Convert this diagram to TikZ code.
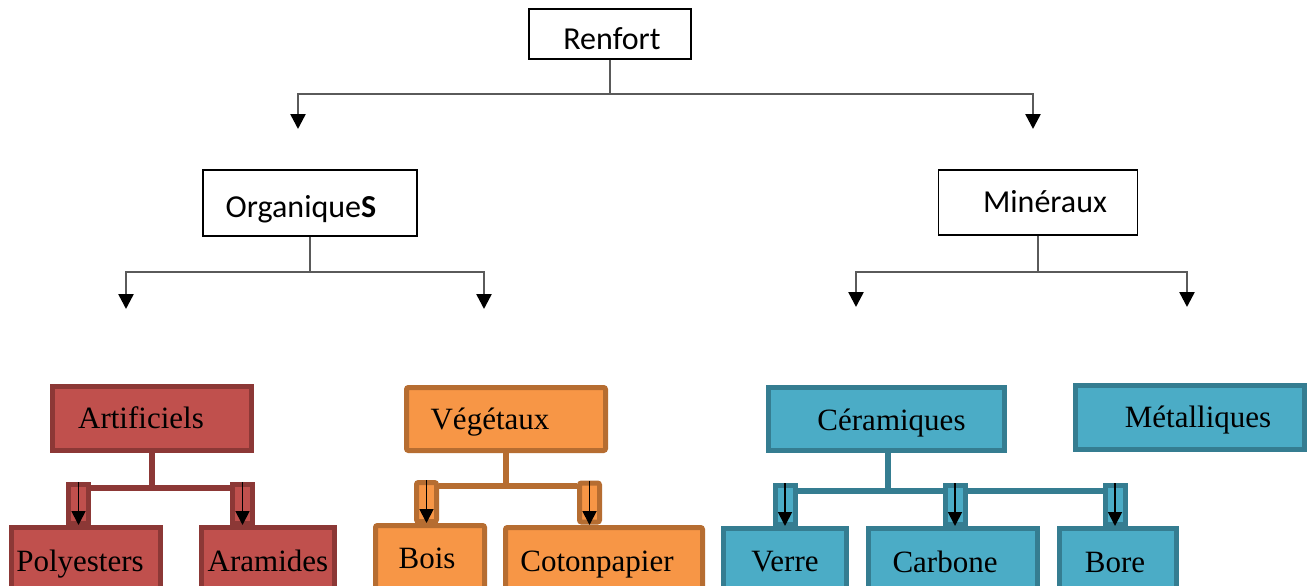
\documentclass[tikz,border=0pt]{standalone}
\usepackage{fontspec}
\setmainfont{Liberation Serif}
\newfontfamily\calib{Carlito}
\usetikzlibrary{arrows.meta}
\definecolor{redfill}{HTML}{C0504D}
\definecolor{redline}{HTML}{8C3836}
\definecolor{orafill}{HTML}{F79646}
\definecolor{oraline}{HTML}{B66D31}
\definecolor{bluefill}{HTML}{4BACC6}
\definecolor{blueline}{HTML}{357D91}
\definecolor{topgray}{HTML}{5A5A5A}
\newcommand\txtshift[2]{\hspace*{#1}#2\hspace*{-#1}}
\begin{document}
\begin{tikzpicture}[x=1pt,y=-1pt,
  topbox/.style={draw=black,line width=1.5pt,fill=white,inner sep=0pt,
    text height=26pt,text depth=0pt,
    font=\calib\fontsize{32}{36}\selectfont},
  graybar/.style={draw=topgray,line width=2.5pt},
  toparrow/.style={graybar,-{Triangle[length=15pt,width=15pt,color=black]}},
  catbox/.style={draw=#1line,fill=#1fill,line width=5pt,inner sep=0pt,
    text height=22pt,text depth=2pt,
    font=\fontsize{31}{36}\selectfont},
  conbox/.style={draw=#1line,fill=#1fill,line width=5pt,inner sep=0pt,
    minimum width=20pt,minimum height=39pt},
  cbar/.style={draw=#1line,line width=6pt},
  inarrow/.style={draw=black,line width=1.8pt,-{Triangle[length=14pt,width=14pt]}}
]
\clip (0,0) rectangle (1312,586);
\fill[white] (0,0) rectangle (1312,586);

% ---------- top level ----------
\node[topbox,text height=32pt,minimum width=162pt,minimum height=50pt] (renfort) at (610,34) {\txtshift{2pt}{Renfort}};
\node[topbox,text height=28pt,minimum width=214pt,minimum height=66pt] (org) at (310,203) {\txtshift{-9pt}{Organique\textbf{S}}};
\node[topbox,text height=20pt,minimum width=199pt,minimum height=65pt] (min) at (1038,202.5) {\txtshift{7pt}{Minéraux}};

\coordinate (rj) at (610,94);
\coordinate (t1) at (298,129);
\coordinate (t2) at (1033,129);
\draw[graybar] (renfort.south) -- (rj);
\draw[toparrow] (rj) -| (t1);
\draw[toparrow] (rj) -| (t2);

\coordinate (oj) at (310,272);
\coordinate (o1) at (126,309);
\coordinate (o2) at (484,309);
\draw[graybar] (org.south) -- (oj);
\draw[toparrow] (oj) -| (o1);
\draw[toparrow] (oj) -| (o2);

\coordinate (mj) at (1038,272);
\coordinate (m1) at (856,307);
\coordinate (m2) at (1187,307);
\draw[graybar] (min.south) -- (mj);
\draw[toparrow] (mj) -| (m1);
\draw[toparrow] (mj) -| (m2);

% ---------- red group ----------
\coordinate (aj) at (152,488);
\node[conbox=red] (ar1) at (78.5,504) {};
\node[conbox=red] (ar2) at (242.5,504) {};
\draw[cbar=red] (152,452) -- (aj);
\draw[cbar=red] (ar1.east |- aj) -- (ar2.west |- aj);
\node[catbox=red,minimum width=199pt,minimum height=64pt] (art) at (152,418.5) {\txtshift{-11pt}{Artificiels}};
\node[catbox=red,minimum width=149pt,minimum height=67pt] (poly) at (86,561) {\txtshift{-6pt}{Polyesters}};
\node[catbox=red,minimum width=133pt,minimum height=67pt] (ara) at (268,561) {Aramides};
\draw[inarrow] (ar1.north) -- (ar1.north |- poly.north);
\draw[inarrow] (ar2.north) -- (ar2.north |- ara.north);

% ---------- orange group ----------
\coordinate (vj) at (506,486);
\node[conbox=ora,rounded corners=2pt] (vg1) at (426.5,502) {};
\node[conbox=ora,rounded corners=2pt] (vg2) at (589.5,502.5) {};
\draw[cbar=ora] (506,452) -- (vj);
\draw[cbar=ora] (vg1.east |- vj) -- (vg2.west |- vj);
\node[catbox=ora,rounded corners=2pt,minimum width=199pt,minimum height=63pt] (veg) at (506,419) {\txtshift{-16pt}{Végétaux}};
\node[catbox=ora,rounded corners=2pt,minimum width=109pt,minimum height=69pt,text height=19pt] (bois) at (430,560) {\txtshift{-3pt}{Bois}};
\node[catbox=ora,rounded corners=2pt,minimum width=197pt,minimum height=67pt] (coton) at (604,561) {\txtshift{-7pt}{Cotonpapier}};
\draw[inarrow] (vg1.north) -- (vg1.north |- bois.north);
\draw[inarrow] (vg2.north) -- (vg2.north |- coton.north);

% ---------- blue group ----------
\coordinate (cj) at (888,491);
\node[conbox=blue] (ce1) at (785,505) {};
\node[conbox=blue] (ce2) at (955,505) {};
\node[conbox=blue] (ce3) at (1115,505) {};
\draw[cbar=blue] (888,452) -- (cj);
\draw[cbar=blue] (ce1.east |- cj) -- (ce3.west |- cj);
\node[catbox=blue,minimum width=236pt,minimum height=63pt,text height=24pt] (cer) at (886.5,419) {\txtshift{5pt}{Céramiques}};
\node[catbox=blue,minimum width=229pt,minimum height=64pt] (met) at (1190,417.5) {\txtshift{8pt}{Métalliques}};
\node[catbox=blue,minimum width=123pt,minimum height=66pt] (verre) at (785,561.5) {Verre};
\node[catbox=blue,minimum width=169pt,minimum height=66pt,text height=23pt] (carb) at (953,561.5) {\txtshift{-8pt}{Carbone}};
\node[catbox=blue,minimum width=117pt,minimum height=66pt,text height=23pt] (bore) at (1118,561.5) {\txtshift{-3pt}{Bore}};
\node[conbox=blue] at (ce2) {};
\draw[inarrow] (ce1.north) -- (ce1.north |- verre.north);
\draw[inarrow] (ce2.north) -- (ce2.north |- carb.north);
\draw[inarrow] (ce3.north) -- (ce3.north |- bore.north);
\end{tikzpicture}
\end{document}
